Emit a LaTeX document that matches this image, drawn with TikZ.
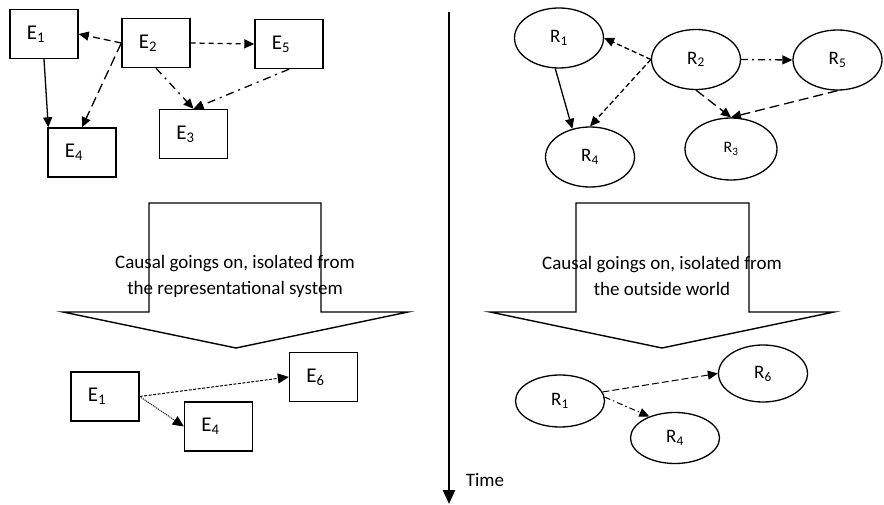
\documentclass[tikz,border=0pt]{standalone}
\usepackage{fontspec}
\setmainfont{Carlito}
\usetikzlibrary{shapes.geometric,arrows.meta,calc}
\tikzset{
  ebox/.style={draw, line width=1.4pt, minimum width=68pt, minimum height=49pt, inner sep=0pt, font=\fontsize{21}{24}\selectfont},
  rell/.style={draw, ellipse, line width=1.3pt, minimum width=89pt, minimum height=60pt, inner sep=0pt, font=\fontsize{19}{22}\selectfont},
  conn/.style={line width=1.3pt, -{Triangle[length=10pt,width=9pt]}},
  thinconn/.style={line width=1pt, -{Triangle[length=11pt,width=10pt]}},
  blockarrow/.style={draw, line width=1.4pt},
  caption/.style={align=center, font=\fontsize{19}{26}\selectfont},
}
\newcommand{\lab}[2]{#1\textsubscript{#2}\hspace*{16pt}}
\newcommand{\rlab}[2]{\raisebox{-3pt}{#1\textsubscript{#2}}}
\begin{document}
\begin{tikzpicture}[x=1pt,y=-1pt]
\useasboundingbox (0,0) rectangle (884,505);
% ---- left top
\node[ebox] (E1) at (44,34) {\lab{E}{1}};
\node[ebox] (E2) at (156,43) {\lab{E}{2}};
\node[ebox] (E5) at (289,44) {\lab{E}{5}};
\node[ebox] (E4) at (82,152.5) {\lab{E}{4}};
\node[ebox] (E3) at (193.5,134) {\lab{E}{3}};
\draw[conn, dash pattern=on 7pt off 4pt] (E2.west) -- (E1.east);
\draw[conn, dash pattern=on 5pt off 4pt] (E2.east) -- (E5.west);
\draw[conn, dash pattern=on 10pt off 5pt] (E2.west) -- (E4.north);
\draw[conn, dash pattern=on 8pt off 5pt on 2pt off 5pt] (E2.south) -- (E3.north);
\draw[conn, dash pattern=on 8pt off 5pt on 2pt off 5pt] (E5.south) -- (E3.north);
\draw[conn] (E1.south) -- ($(E4.north west)+(1,0)$);
% ---- right top
\node[rell] (R1) at (559,38) {\rlab{R}{1}};
\node[rell] (R2) at (696,59.5) {\rlab{R}{2}};
\node[rell] (R5) at (837.5,60) {\rlab{R}{5}};
\node[rell] (R4) at (590,157) {\rlab{R}{4}};
\node[rell, minimum width=92pt, minimum height=62pt, font=\fontsize{16}{20}\selectfont] (R3) at (731,149) {\rlab{R}{3}};
\draw[conn, dash pattern=on 5pt off 3pt] (R2.west) -- (R1.east);
\draw[conn, dash pattern=on 5pt off 3pt] (R2.west) -- (R4.north);
\draw[conn, dash pattern=on 7pt off 4pt on 2pt off 4pt] (R2.east) -- (R5.west);
\draw[conn, dash pattern=on 10pt off 5pt] (R2.south) -- (R3.north);
\draw[conn, dash pattern=on 10pt off 5pt] (R5.south) -- (R3.north);
\draw[conn] (R1.263) -- (R4.122);
% ---- block arrows
\draw[blockarrow] (149,203) coordinate (LA1) -- (321,203) -- (321,312) -- (408,312) -- (236,348) -- (63,312) -- (149,312) -- cycle;
\node[caption] (LT) at (235,276) {Causal goings on, isolated from\\the representational system};
\draw[blockarrow] (576,203) coordinate (RA1) -- (749,203) -- (749,312) -- (834,312) -- (662,348) -- (490,312) -- (576,312) -- cycle;
\node[caption] (RT) at (662,276) {Causal goings on, isolated from\\the outside world};
% ---- bottom left
\node[ebox] (B1) at (105,396.5) {\lab{E}{1}};
\node[ebox] (B6) at (323.5,377) {\lab{E}{6}};
\node[ebox] (B4) at (218.5,426.5) {\lab{E}{4}};
\draw[thinconn, dash pattern=on 3pt off 1.5pt] (B1.east) -- (B6.west);
\draw[thinconn, dash pattern=on 1pt off 1pt] (B1.east) -- (B4.west);
% ---- bottom right
\node[rell, minimum height=52pt] (S1) at (560,401) {\rlab{R}{1}};
\node[rell, minimum height=57pt] (S6) at (763,373.5) {\rlab{R}{6}};
\node[rell, minimum height=51pt] (S4) at (675,438) {\rlab{R}{4}};
\draw[conn, line width=1pt, dash pattern=on 7pt off 3pt] (S1.12) -- (S6.west);
\draw[conn, line width=1pt, dash pattern=on 6pt off 3pt on 1.5pt off 3pt] (S1.5) -- (S4.140);
% ---- time axis
\coordinate (T0) at (449,12);
\coordinate (T1) at (449,504);
\draw[line width=2.6pt, -{Triangle[length=14pt,width=12pt]}] (T0) -- (T1);
\node[font=\fontsize{19}{24}\selectfont] (TL) at (485,480) {Time};
\end{tikzpicture}
\end{document}
